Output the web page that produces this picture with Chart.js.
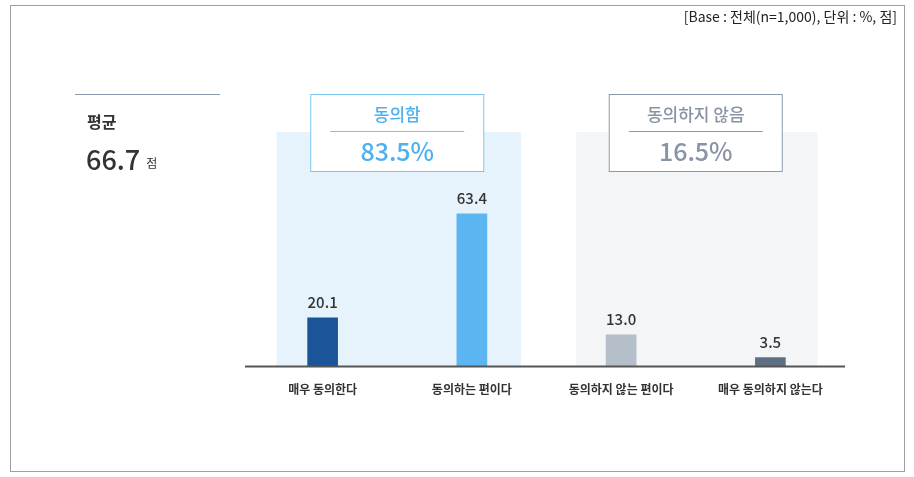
<!DOCTYPE html>
<html><head><meta charset="utf-8">
<script src="https://cdn.jsdelivr.net/npm/chart.js@4"></script>
<style>html,body{margin:0;padding:0;background:#fff}#w{position:relative;width:914px;height:477px}</style>
</head><body><div id="w"><canvas id="c" width="914" height="477"></canvas></div>
<script>
const categories = ["매우 동의한다","동의하는 편이다","동의하지 않는 편이다","매우 동의하지 않는다"];
const values = [20.1, 63.4, 13.0, 3.5];
const valueLabels = ["20.1","63.4","13.0","3.5"];
const barColors = ["#1a5599","#5bb5f0","#b5bfc9","#5e6f82"];
const groupTitles = ["동의함","동의하지 않음"];
const groupValues = ["83.5%","16.5%"];
const meanLabel = "평균";
const meanValue = "66.7";
const note = "[Base : 전체(n=1,000), 단위 : %, 점]";
const F = "'Noto Sans CJK KR','Noto Sans',sans-serif";

const deco = {
  id:'deco',
  beforeDatasetsDraw(ch){
    const c=ch.ctx, x=ch.scales.x, y=ch.scales.y;
    const bot=y.getPixelForValue(0), top=132;
    c.save();
    c.fillStyle='#e6f3fc';
    c.fillRect(x.getPixelForValue(0)-46, top, x.getPixelForValue(1)+49-(x.getPixelForValue(0)-46), bot-top);
    c.fillStyle='#f4f5f7';
    c.fillRect(x.getPixelForValue(2)-45, top, x.getPixelForValue(3)+47-(x.getPixelForValue(2)-45), bot-top);
    c.restore();
  },
  afterDatasetsDraw(ch){
    const c=ch.ctx, x=ch.scales.x, y=ch.scales.y;
    c.save();
    c.strokeStyle='#a0a0a0'; c.lineWidth=1;
    c.strokeRect(10.5,5.5,894,466);
    c.strokeStyle='#555'; c.lineWidth=2;
    c.beginPath(); c.moveTo(245,y.getPixelForValue(0)+0.5); c.lineTo(845,y.getPixelForValue(0)+0.5); c.stroke();
    c.fillStyle='#333'; c.textAlign='center'; c.textBaseline='alphabetic';
    c.font='500 15px '+F;
    values.forEach((v,i)=>c.fillText(valueLabels[i], x.getPixelForValue(i), y.getPixelForValue(v)-10));
    c.font='bold 12px '+F; c.fillStyle='#333';
    categories.forEach((t,i)=>c.fillText(t, x.getPixelForValue(i), 394));
    const boxes=[{cx:(x.getPixelForValue(0)+x.getPixelForValue(1))/2, b:'#7cc4f0', t:'#4fb0ee', l:'#7cc4f0'},
                 {cx:(x.getPixelForValue(2)+x.getPixelForValue(3))/2, b:'#8a9bb0', t:'#8894a3', l:'#8a9bb0'}];
    boxes.forEach((bx,i)=>{
      c.fillStyle='#fff'; c.fillRect(bx.cx-87,94,174,78);
      c.strokeStyle=bx.b; c.lineWidth=1; c.strokeRect(bx.cx-86.5,94.5,173,77);
      c.strokeStyle=bx.l; c.beginPath(); c.moveTo(bx.cx-67,131.5); c.lineTo(bx.cx+67,131.5); c.stroke();
      c.fillStyle=bx.t; c.font='500 17px '+F; c.fillText(groupTitles[i], bx.cx, 121);
      c.font='500 25px '+F; c.fillText(groupValues[i], bx.cx, 161);
    });
    c.strokeStyle='#8a9bb0'; c.lineWidth=1; c.beginPath(); c.moveTo(75,94.5); c.lineTo(220,94.5); c.stroke();
    c.textAlign='left'; c.fillStyle='#333'; c.font='bold 16px '+F; c.fillText(meanLabel, 87, 128);
    c.font='500 27px '+F; c.fillText(meanValue, 86, 170);
    const w=c.measureText(meanValue).width;
    c.font='12px '+F; c.fillText("점", 86+w+6, 168);
    c.textAlign='right'; c.font='14px '+F; c.fillStyle='#222'; c.fillText(note, 897, 22);
    c.restore();
  }
};

new Chart(document.getElementById('c'),{
  type:'bar',
  data:{labels:categories, datasets:[{data:values, backgroundColor:barColors, barThickness:30}]},
  options:{responsive:false, animation:false,
    layout:{padding:{left:248,right:69,top:126,bottom:111}},
    plugins:{legend:{display:false},tooltip:{enabled:false}},
    scales:{x:{display:false},y:{display:false,min:0,max:100}}},
  plugins:[deco]
});
</script></body></html>
